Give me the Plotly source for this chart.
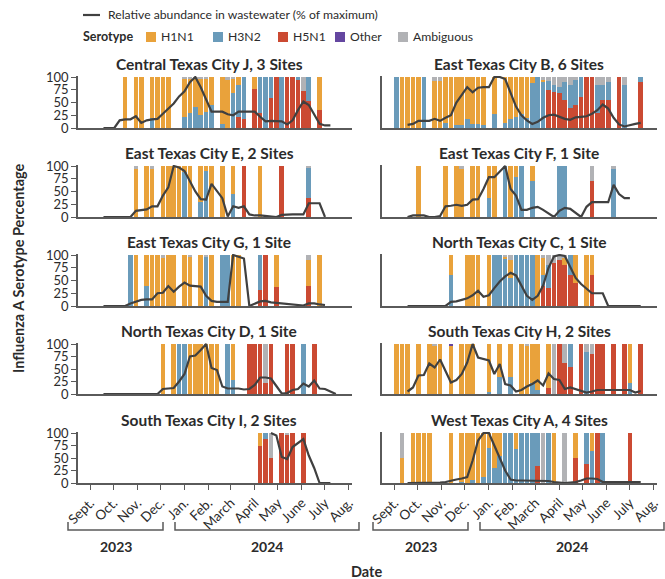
import plotly.graph_objects as go
import pandas as pd

W, H = 665, 579
START = pd.Timestamp("2023-09-04")  # week index 0

SEROTYPES = ["H5N1", "H3N2", "H1N1", "Other", "Ambiguous"]  # stacking order bottom->top
COLORS = {"H1N1": "#E9A23B", "H3N2": "#6A9BBA", "H5N1": "#CB4A32",
          "Other": "#6446A0", "Ambiguous": "#B1B2B5"}
LEGEND_ORDER = ["H1N1", "H3N2", "H5N1", "Other", "Ambiguous"]

MONTHS = ["2023-09-01", "2023-10-01", "2023-11-01", "2023-12-01", "2024-01-01", "2024-02-01",
          "2024-03-01", "2024-04-01", "2024-05-01", "2024-06-01", "2024-07-01", "2024-08-01"]
MONTH_LABELS = ["Sept.", "Oct.", "Nov.", "Dec.", "Jan.", "Feb.", "March", "April", "May",
                "June", "July", "Aug."]
YTICKS = [0, 25, 50, 75, 100]

# ---------------- Central Texas City J ----------------
J_TITLE = "Central Texas City J, 3 Sites"
J_WEEKS = [6, 8, 9, 11, 12, 13, 14, 17, 18, 19, 20, 21, 22, 24, 25, 26, 27, 28, 30, 31, 32, 33, 34, 35, 36, 37, 38, 39, 40, 42]
J_H1 = [100, 100, 100, 80, 100, 100, 100, 75, 68, 56, 71, 66, 54, 92, 95, 28, 15, 0, 23, 0, 0, 0, 0, 0, 0, 0, 0, 0, 0, 64]
J_H3 = [0, 0, 0, 20, 0, 0, 0, 22, 29, 41, 26, 31, 46, 8, 0, 69, 63, 83, 0, 71, 100, 41, 0, 100, 0, 0, 5, 0, 47, 0]
J_H5 = [0, 0, 0, 0, 0, 0, 0, 0, 0, 0, 0, 0, 0, 0, 0, 0, 22, 17, 77, 29, 0, 59, 100, 0, 100, 100, 95, 72, 53, 36]
J_OT = [0] * 30
J_AMB = [0, 0, 0, 0, 0, 0, 0, 3, 3, 3, 3, 3, 0, 0, 5, 3, 0, 0, 0, 0, 0, 0, 0, 0, 0, 0, 0, 28, 0, 0]
J_WW_FROM = 2
J_WW = [0, 0, 0, 15, 17, 17, 23, 10, 15, 17, 18, 28, 38, 48, 62, 72, 90, 100, 80, 55, 32, 32, 32, 27, 25, 32,
        32, 32, 32, 22, 13, 14, 14, 13, 7, 15, 35, 52, 45, 25, 8, 5, 5]

# ---------------- East Texas City B ----------------
B_TITLE = "East Texas City B, 6 Sites"
B_WEEKS = [0, 1, 2, 3, 4, 5, 7, 8, 9, 10, 11, 12, 13, 14, 15, 16, 18, 20, 21, 22, 23, 24, 25, 26, 27, 28, 29, 30, 31, 32, 33, 34, 35, 36, 37, 38, 39, 41, 42, 45]
B_H1 = [0, 100, 100, 100, 100, 0, 93, 93, 90, 100, 95, 95, 82, 92, 92, 95, 72, 90, 83, 78, 72, 80, 12, 0, 5, 0, 0, 0, 0, 0, 0, 0, 0, 0, 0, 0, 0, 0, 0, 0]
B_H3 = [100, 0, 0, 0, 0, 100, 0, 0, 10, 0, 5, 5, 18, 8, 8, 5, 28, 10, 17, 22, 28, 20, 88, 100, 90, 17, 15, 12, 35, 45, 50, 40, 0, 0, 55, 30, 35, 0, 85, 10]
B_H5 = [0, 0, 0, 0, 0, 0, 0, 0, 0, 0, 0, 0, 0, 0, 0, 0, 0, 0, 0, 0, 0, 0, 0, 0, 0, 75, 70, 68, 55, 40, 45, 60, 100, 100, 30, 55, 55, 100, 0, 90]
B_OT = [0] * 40
B_AMB = [0, 0, 0, 0, 0, 0, 7, 7, 0, 0, 0, 0, 0, 0, 0, 0, 0, 0, 0, 0, 0, 0, 0, 0, 5, 8, 15, 20, 10, 15, 5, 0, 0, 0, 15, 15, 10, 0, 15, 0]
B_WW_FROM = 2
B_WW = [6, 8, 14, 14, 14, 18, 14, 20, 25, 50, 65, 80, 70, 79, 80, 80, 100, 100, 96, 69, 42, 25, 15, 8, 12, 20,
        25, 26, 22, 18, 16, 21, 22, 23, 28, 35, 46, 38, 20, 7, 3, 6, 8, 10]

# ---------------- East Texas City E ----------------
E_TITLE = "East Texas City E, 2 Sites"
E_WEEKS = [8, 10, 11, 13, 14, 15, 16, 17, 18, 20, 21, 22, 24, 26, 28, 31, 35, 40]
E_H1 = [95, 100, 95, 100, 100, 100, 100, 11, 100, 70, 10, 100, 100, 55, 0, 100, 0, 0]
E_H3 = [0, 0, 0, 0, 0, 0, 0, 89, 0, 30, 90, 0, 0, 45, 0, 0, 0, 58]
E_H5 = [0, 0, 0, 0, 0, 0, 0, 0, 0, 0, 0, 0, 0, 0, 100, 0, 100, 38]
E_OT = [0] * 18
E_AMB = [5, 0, 5, 0, 0, 0, 0, 0, 0, 0, 0, 0, 0, 0, 0, 0, 0, 4]
E_WW_FROM = 2
E_WW = [0, 0, 0, 0, 0, 0, 12, 13, 15, 21, 21, 42, 58, 100, 97, 90, 69, 50, 35, 34, 65, 50, 37, 1, 21, 18,
        21, 5, 3, 3, 2, 1, 0, 4, 5, 5, 5, 5, 27, 27, 27, 0]

# ---------------- East Texas City F ----------------
F_TITLE = "East Texas City F, 1 Site"
F_WEEKS = [4, 9, 11, 12, 14, 15, 17, 18, 20, 21, 22, 23, 25, 30, 31, 36, 40]
F_H1 = [100, 100, 100, 95, 100, 100, 62, 100, 0, 100, 22, 0, 30, 0, 0, 0, 0]
F_H3 = [0, 0, 0, 0, 0, 0, 38, 0, 100, 0, 78, 100, 70, 100, 100, 0, 95]
F_H5 = [0, 0, 0, 0, 0, 0, 0, 0, 0, 0, 0, 0, 0, 0, 0, 70, 0]
F_OT = [0] * 17
F_AMB = [0, 0, 0, 5, 0, 0, 0, 0, 0, 0, 0, 0, 0, 0, 0, 30, 5]
F_WW_FROM = 2
F_WW = [0, 3, 3, 3, 0, 0, 2, 21, 22, 24, 22, 24, 34, 35, 55, 78, 78, 90, 100, 55, 42, 14, 14, 18, 20, 14,
        7, 0, 12, 18, 16, 8, 0, 20, 29, 29, 29, 29, 63, 45, 37, 37]

# ---------------- East Texas City G ----------------
G_TITLE = "East Texas City G, 1 Site"
G_WEEKS = [7, 8, 10, 11, 12, 13, 14, 15, 17, 18, 20, 21, 22, 24, 25, 26, 27, 31, 32, 34, 40, 42]
G_H1 = [0, 100, 60, 100, 100, 95, 100, 100, 100, 98, 100, 0, 100, 0, 0, 100, 100, 0, 0, 63, 50, 100]
G_H3 = [100, 0, 40, 0, 0, 0, 0, 0, 0, 0, 0, 97, 0, 100, 100, 0, 0, 68, 0, 0, 0, 0]
G_H5 = [0, 0, 0, 0, 0, 0, 0, 0, 0, 0, 0, 0, 0, 0, 0, 0, 0, 32, 100, 37, 40, 0]
G_OT = [0] * 22
G_AMB = [0, 0, 0, 0, 0, 5, 0, 0, 0, 2, 0, 3, 0, 0, 0, 0, 0, 0, 0, 0, 10, 0]
G_WW_FROM = 2
G_WW = [0, 0, 0, 0, 0, 5, 9, 12, 13, 13, 25, 26, 39, 28, 38, 46, 40, 39, 38, 20, 10, 8, 8, 8, 100, 96,
        93, 0, 5, 9, 10, 7, 6, 5, 4, 3, 2, 1, 5, 5, 3, 2]

# ---------------- North Texas City C ----------------
C_TITLE = "North Texas City C, 1 Site"
C_WEEKS = [10, 13, 14, 15, 17, 18, 19, 20, 21, 22, 23, 24, 25, 26, 27, 28, 29, 30, 31, 32, 33, 35, 36]
C_H1 = [40, 100, 100, 100, 100, 0, 0, 4, 36, 0, 0, 0, 0, 100, 35, 0, 0, 0, 15, 0, 55, 100, 40]
C_H3 = [60, 0, 0, 0, 0, 100, 100, 92, 54, 100, 100, 100, 100, 0, 20, 45, 0, 0, 0, 40, 0, 0, 0]
C_H5 = [0, 0, 0, 0, 0, 0, 0, 0, 0, 0, 0, 0, 0, 0, 40, 35, 85, 90, 80, 60, 45, 0, 60]
C_OT = [0] * 23
C_AMB = [0, 0, 0, 0, 0, 0, 0, 4, 10, 0, 0, 0, 0, 0, 5, 20, 15, 10, 5, 0, 0, 0, 0]
C_WW_FROM = 2
C_WW = [0, 0, 0, 0, 0, 0, 0, 0, 8, 9, 12, 15, 21, 30, 18, 21, 35, 48, 58, 65, 60, 40, 20, 12, 20, 40,
        75, 97, 100, 98, 75, 55, 43, 33, 25, 25, 25, 0, 0, 0, 0, 0, 0, 0]

# ---------------- North Texas City D ----------------
D_TITLE = "North Texas City D, 1 Site"
D_WEEKS = [13, 15, 16, 17, 18, 19, 20, 21, 22, 23, 25, 26, 29, 30, 31, 32, 33, 36, 37, 39, 41]
D_H1 = [100, 100, 0, 0, 100, 100, 100, 100, 100, 100, 0, 72, 0, 0, 0, 0, 0, 0, 0, 0, 0]
D_H3 = [0, 0, 100, 100, 0, 0, 0, 0, 0, 0, 100, 28, 0, 0, 0, 0, 0, 0, 0, 100, 0]
D_H5 = [0, 0, 0, 0, 0, 0, 0, 0, 0, 0, 0, 0, 100, 100, 100, 22, 100, 100, 100, 0, 100]
D_OT = [0] * 21
D_AMB = [0, 0, 0, 0, 0, 0, 0, 0, 0, 0, 0, 0, 0, 0, 0, 78, 0, 0, 0, 0, 0]
D_WW_FROM = 2
D_WW = [0, 0, 0, 0, 0, 0, 0, 0, 0, 0, 0, 10, 11, 12, 25, 40, 75, 77, 88, 100, 52, 48, 15, 11, 11, 11,
        9, 10, 18, 33, 33, 31, 16, 1, 2, 8, 10, 21, 15, 27, 11, 10, 5, 0]

# ---------------- South Texas City H ----------------
H_TITLE = "South Texas City H, 2 Sites"
H_WEEKS = [0, 1, 2, 4, 6, 7, 8, 10, 12, 13, 14, 17, 19, 21, 23, 24, 25, 26, 28, 29, 30, 31, 32, 34, 35, 36, 37, 38, 40, 42, 43, 45]
H_H1 = [100, 100, 100, 100, 100, 97, 100, 96, 100, 100, 100, 95, 65, 65, 100, 97, 78, 92, 88, 0, 0, 0, 0, 0, 0, 0, 0, 0, 0, 0, 78, 0]
H_H3 = [0, 0, 0, 0, 0, 0, 0, 0, 0, 0, 0, 5, 35, 35, 0, 0, 22, 8, 0, 0, 0, 0, 45, 0, 85, 0, 0, 0, 0, 0, 22, 0]
H_H5 = [0, 0, 0, 0, 0, 0, 0, 0, 0, 0, 0, 0, 0, 0, 0, 0, 0, 0, 12, 0, 100, 62, 55, 100, 0, 80, 100, 100, 100, 100, 0, 100]
H_OT = [0, 0, 0, 0, 0, 0, 0, 4, 0, 0, 0, 0, 0, 0, 0, 0, 0, 0, 0, 0, 0, 0, 0, 0, 0, 0, 0, 0, 0, 0, 0, 0]
H_AMB = [0, 0, 0, 0, 0, 3, 0, 0, 0, 0, 0, 0, 0, 0, 0, 3, 0, 0, 0, 100, 0, 38, 0, 0, 15, 20, 0, 0, 0, 0, 0, 0]
H_WW_FROM = 2
H_WW = [5, 13, 37, 38, 61, 53, 69, 45, 23, 28, 40, 63, 100, 73, 70, 67, 40, 60, 20, 17, 5, 8, 15, 20, 27,
        17, 41, 30, 28, 10, 13, 10, 7, 3, 5, 8, 8, 8, 8, 8, 8, 8, 3, 6]

# ---------------- South Texas City I ----------------
I_TITLE = "South Texas City I, 2 Sites"
I_WEEKS = [31, 32, 33, 35, 36, 37, 39]
I_H1 = [25, 0, 0, 0, 0, 0, 0]
I_H3 = [0, 12, 0, 0, 0, 0, 0]
I_H5 = [75, 88, 50, 100, 96, 100, 100]
I_OT = [0] * 7
I_AMB = [0, 0, 50, 0, 4, 0, 0]
I_WW_FROM = 33
I_WW = [100, 95, 52, 48, 72, 80, 88, 55, 30, 0, 0, 0]

# ---------------- West Texas City A ----------------
A_TITLE = "West Texas City A, 4 Sites"
A_WEEKS = [1, 3, 4, 5, 6, 10, 12, 13, 14, 15, 16, 17, 18, 19, 20, 21, 22, 23, 24, 25, 26, 27, 28, 29, 31, 33, 35, 36, 37, 38, 43]
A_H1 = [50, 100, 100, 100, 100, 100, 97, 100, 93, 100, 88, 30, 70, 45, 0, 0, 32, 0, 0, 0, 0, 0, 0, 100, 0, 50, 0, 35, 0, 0, 0]
A_H3 = [0, 0, 0, 0, 0, 0, 3, 0, 7, 0, 12, 70, 30, 55, 100, 100, 68, 100, 100, 100, 65, 0, 100, 0, 0, 0, 62, 65, 0, 100, 0]
A_H5 = [0, 0, 0, 0, 0, 0, 0, 0, 0, 0, 0, 0, 0, 0, 0, 0, 0, 0, 0, 0, 35, 0, 0, 0, 0, 50, 38, 0, 100, 0, 100]
A_OT = [0] * 31
A_AMB = [50, 0, 0, 0, 0, 0, 0, 0, 0, 0, 0, 0, 0, 0, 0, 0, 0, 0, 0, 0, 0, 100, 0, 0, 100, 0, 0, 0, 0, 0, 0]
A_WW_FROM = 2
A_WW = [0, 0, 0, 0, 0, 0, 1, 2, 5, 7, 9, 12, 45, 85, 100, 100, 75, 50, 25, 7, 5, 5, 5, 5, 5, 5, 4, 2, 1,
        0, 1, 2, 5, 9, 9, 8, 2, 2, 2, 2, 2, 2, 2, 2]

PANELS = [
    (J_TITLE, J_WEEKS, J_H1, J_H3, J_H5, J_OT, J_AMB, J_WW_FROM, J_WW),
    (B_TITLE, B_WEEKS, B_H1, B_H3, B_H5, B_OT, B_AMB, B_WW_FROM, B_WW),
    (E_TITLE, E_WEEKS, E_H1, E_H3, E_H5, E_OT, E_AMB, E_WW_FROM, E_WW),
    (F_TITLE, F_WEEKS, F_H1, F_H3, F_H5, F_OT, F_AMB, F_WW_FROM, F_WW),
    (G_TITLE, G_WEEKS, G_H1, G_H3, G_H5, G_OT, G_AMB, G_WW_FROM, G_WW),
    (C_TITLE, C_WEEKS, C_H1, C_H3, C_H5, C_OT, C_AMB, C_WW_FROM, C_WW),
    (D_TITLE, D_WEEKS, D_H1, D_H3, D_H5, D_OT, D_AMB, D_WW_FROM, D_WW),
    (H_TITLE, H_WEEKS, H_H1, H_H3, H_H5, H_OT, H_AMB, H_WW_FROM, H_WW),
    (I_TITLE, I_WEEKS, I_H1, I_H3, I_H5, I_OT, I_AMB, I_WW_FROM, I_WW),
    (A_TITLE, A_WEEKS, A_H1, A_H3, A_H5, A_OT, A_AMB, A_WW_FROM, A_WW),
]

FONT = "Lato"
TXT = "#2b2b2b"
AXC = "#5a5a5a"
LINEC = "#404040"
XRANGE = ["2023-08-16", "2024-08-05"]
BAR_W = 6 * 86400000


def wdates(weeks):
    return [START + pd.Timedelta(days=7 * k) for k in weeks]


def px(x):
    return x / W


def py(y):
    return 1 - y / H


COLS = [(78, 352), (382, 657)]
ROWS = [(77, 128), (166, 217), (255, 306), (344, 394), (433, 483)]
YMAX = 102
TITLE_X = [209, 519]
TITLE_Y = [64, 153, 242, 331, 420]

fig = go.Figure()
layout = {}
annotations = []
shapes = []

for i, (title, weeks, h1, h3, h5, ot, amb, ww_from, ww) in enumerate(PANELS):
    row, col = divmod(i, 2)
    sfx = "" if i == 0 else str(i + 1)
    xref, yref = "x" + sfx, "y" + sfx
    vals = {"H1N1": h1, "H3N2": h3, "H5N1": h5, "Other": ot, "Ambiguous": amb}
    xd = wdates(weeks)
    for s in SEROTYPES:
        fig.add_trace(go.Bar(x=xd, y=vals[s], width=[BAR_W] * len(weeks),
                             marker=dict(color=COLORS[s], line=dict(width=0)),
                             name=s, showlegend=False, xaxis=xref, yaxis=yref,
                             hoverinfo="skip"))
    ww_weeks = list(range(ww_from, ww_from + len(ww)))
    fig.add_trace(go.Scatter(x=wdates(ww_weeks), y=ww, mode="lines",
                             line=dict(color=LINEC, width=2.2), showlegend=False,
                             xaxis=xref, yaxis=yref, hoverinfo="skip"))

    x0, x1 = COLS[col]
    top100, bot = ROWS[row]
    hgt = bot - top100
    ytop = bot - hgt * YMAX / 100
    bottom_row = row == 4
    layout["xaxis" + sfx] = dict(
        domain=[px(x0), px(x1)], anchor=yref, type="date", range=XRANGE,
        showline=True, linecolor=AXC, linewidth=1.5, showgrid=False, zeroline=False,
        tickvals=MONTHS, ticktext=MONTH_LABELS, showticklabels=bottom_row,
        ticks="outside" if bottom_row else "", ticklen=5, tickcolor=AXC, tickwidth=1.2,
        tickangle=-45, tickfont=dict(family=FONT, size=13.5, color=TXT), automargin=False)
    layout["yaxis" + sfx] = dict(
        domain=[py(bot), py(ytop)], anchor=xref, range=[0, YMAX],
        showline=True, linecolor=AXC, linewidth=1.5, showgrid=False, zeroline=False,
        tickvals=YTICKS, showticklabels=(col == 0), ticks="outside" if col == 0 else "",
        ticklen=5, tickcolor=AXC, tickwidth=1.2,
        tickfont=dict(family=FONT, size=13, color=TXT), automargin=False)
    annotations.append(dict(text="<b>" + title + "</b>", x=px(TITLE_X[col]), y=py(TITLE_Y[row]),
                            xref="paper", yref="paper", showarrow=False, xanchor="center",
                            yanchor="middle", font=dict(family=FONT, size=15.5, color=TXT)))

# ---- legend (drawn manually) ----
shapes.append(dict(type="line", xref="paper", yref="paper", x0=px(83), x1=px(100),
                   y0=py(15), y1=py(15), line=dict(color=LINEC, width=2.2)))
annotations.append(dict(text="Relative abundance in wastewater (% of maximum)", x=px(106), y=py(15),
                        xref="paper", yref="paper", showarrow=False, xanchor="left", yanchor="middle",
                        font=dict(family=FONT, size=12.2, color=TXT)))
annotations.append(dict(text="<b>Serotype</b>", x=px(81), y=py(37), xref="paper", yref="paper",
                        showarrow=False, xanchor="left", yanchor="middle",
                        font=dict(family=FONT, size=12.5, color=TXT)))
SW_X = [146, 213, 278, 335, 398]
for s, sx in zip(LEGEND_ORDER, SW_X):
    shapes.append(dict(type="rect", xref="paper", yref="paper", x0=px(sx), x1=px(sx + 10),
                       y0=py(42), y1=py(32), fillcolor=COLORS[s], line=dict(width=0)))
    annotations.append(dict(text=s, x=px(sx + 13), y=py(37), xref="paper", yref="paper",
                            showarrow=False, xanchor="left", yanchor="middle",
                            font=dict(family=FONT, size=12.2, color=TXT)))

# ---- year brackets ----
BRACKETS = [(68, 163, "2023"), (175, 359, "2024"), (373, 468, "2023"), (480, 664, "2024")]
for bx0, bx1, lab in BRACKETS:
    path = "M {} {} L {} {} L {} {} L {} {}".format(px(bx0), py(522), px(bx0), py(530),
                                                    px(bx1), py(530), px(bx1), py(522))
    shapes.append(dict(type="path", xref="paper", yref="paper", path=path,
                       line=dict(color=AXC, width=1.5)))
    annotations.append(dict(text="<b>" + lab + "</b>", x=px((bx0 + bx1) / 2), y=py(546),
                            xref="paper", yref="paper", showarrow=False, xanchor="center",
                            yanchor="middle", font=dict(family=FONT, size=14, color=TXT)))

annotations.append(dict(text="<b>Date</b>", x=px(366), y=py(571), xref="paper", yref="paper",
                        showarrow=False, xanchor="center", yanchor="middle",
                        font=dict(family=FONT, size=14.5, color=TXT)))
annotations.append(dict(text="<b>Influenza A Serotype Percentage</b>", x=px(19), y=py(268),
                        xref="paper", yref="paper", showarrow=False, textangle=-90,
                        xanchor="center", yanchor="middle",
                        font=dict(family=FONT, size=14.5, color=TXT)))

fig.update_layout(width=W, height=H, margin=dict(l=0, r=0, t=0, b=0),
                  paper_bgcolor="white", plot_bgcolor="white", barmode="stack",
                  showlegend=False, annotations=annotations, shapes=shapes, **layout)
fig.write_html("out.html", config={"displayModeBar": False},
               post_script="document.body.style.margin='0';document.body.style.overflow='hidden';")
